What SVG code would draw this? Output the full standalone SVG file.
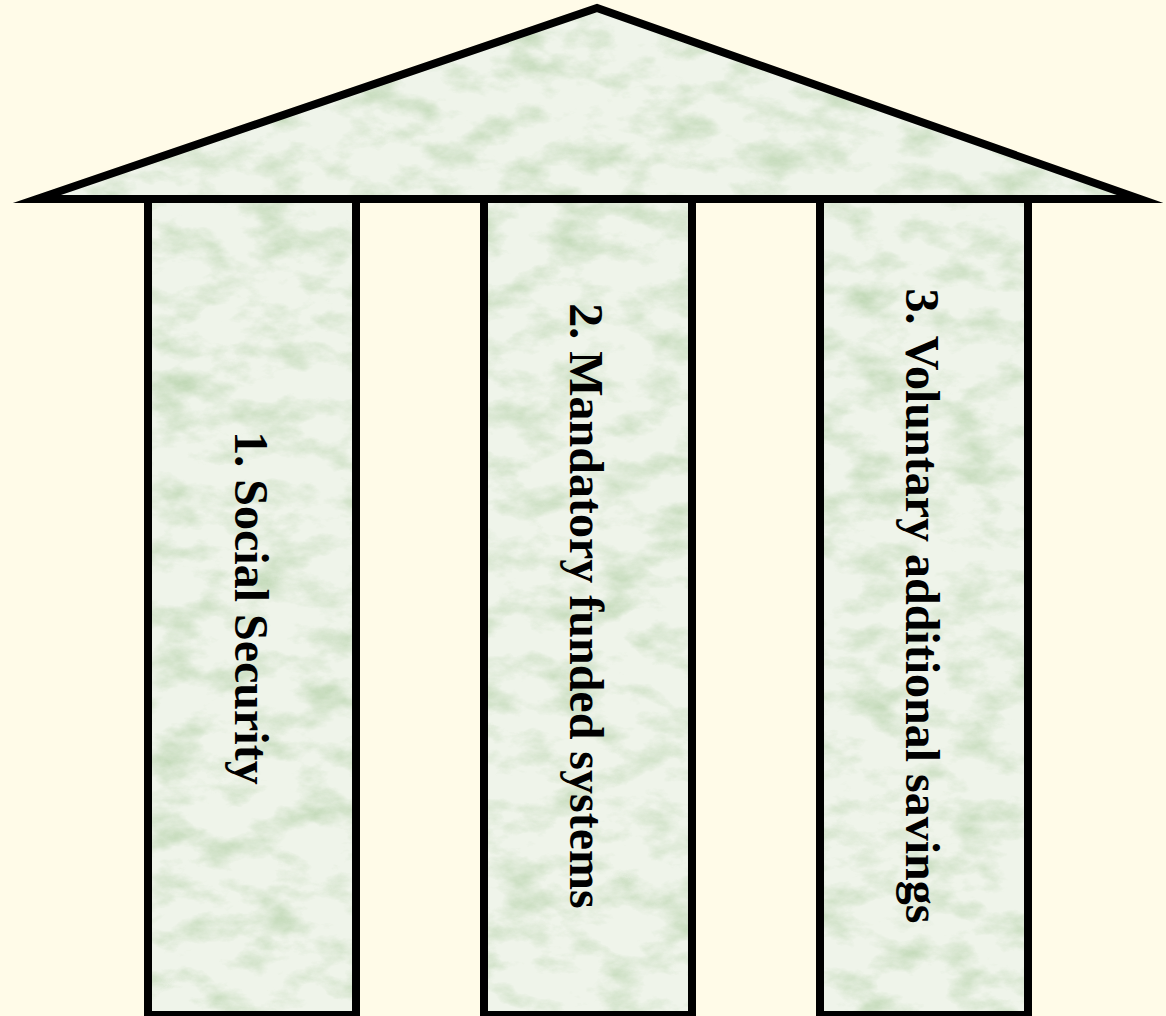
<svg xmlns="http://www.w3.org/2000/svg" width="1166" height="1016" viewBox="0 0 1166 1016">
<style>
.bg{fill:#FFFBE8}
.marble{fill:#EFF4EA;filter:url(#marble)}
.edge{fill:none;stroke:#000;stroke-width:8;stroke-linejoin:miter;stroke-miterlimit:10}
.lbl{font-family:"Liberation Serif","Times New Roman",serif;font-weight:bold;font-size:48px;fill:#000;text-anchor:middle}
</style>
<defs>
<filter id="marble" x="0" y="0" width="100%" height="100%" color-interpolation-filters="sRGB">
<feTurbulence type="fractalNoise" baseFrequency="0.02 0.035" numOctaves="5" seed="7" result="n"/>
<feColorMatrix in="n" type="matrix" values="0 0 0 0 0.76  0 0 0 0 0.85  0 0 0 0 0.72  2.2 0 0 0 -1.0" result="c"/>
<feComposite in="c" in2="SourceGraphic" operator="in" result="t"/>
<feMerge><feMergeNode in="SourceGraphic"/><feMergeNode in="t"/></feMerge>
</filter>
</defs>
<rect class="bg" x="0" y="0" width="1166" height="1016"/>
<g id="pillar1">
<rect class="marble" x="148" y="199" width="208" height="816"/>
<rect class="edge" x="148" y="199" width="208" height="816"/>
<text class="lbl" transform="translate(235,608) rotate(90)">1. Social Security</text>
</g>
<g id="pillar2">
<rect class="marble" x="484" y="199" width="208" height="816"/>
<rect class="edge" x="484" y="199" width="208" height="816"/>
<text class="lbl" transform="translate(570,606) rotate(90)">2. Mandatory funded systems</text>
</g>
<g id="pillar3">
<rect class="marble" x="820" y="199" width="208" height="816"/>
<rect class="edge" x="820" y="199" width="208" height="816"/>
<text class="lbl" transform="translate(906,606) rotate(90)">3. Voluntary additional savings</text>
</g>
<g id="roof">
<polygon class="marble" points="37,199 597,8 1140,199"/>
<polygon class="edge" points="37,199 597,8 1140,199"/>
</g>
<g id="connectors"/>
</svg>
